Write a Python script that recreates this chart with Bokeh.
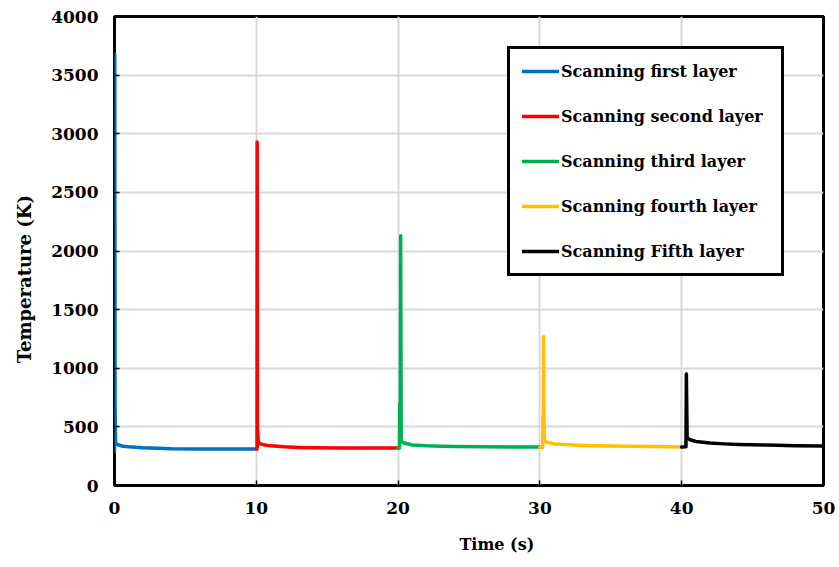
from bokeh.plotting import figure
from bokeh.models import Legend, LegendItem, FixedTicker
from bokeh.embed import file_html
from bokeh.resources import INLINE

# Temperature history while scanning five successive layers
t_layer1 = [0.0, 0.02, 0.04, 0.07, 0.1, 0.15, 0.3, 0.6, 1.0, 2.0, 3.0, 4.0, 6.0, 8.0, 10.0]
T_layer1 = [290, 3680, 700, 380, 360, 352, 345, 335, 330, 322, 318, 313, 312, 312, 312]

t_layer2 = [10.0, 10.05, 10.06, 10.08, 10.1, 10.14, 10.3, 10.6, 11.0, 12.0, 13.0, 14.0, 16.0, 18.0, 20.0]
T_layer2 = [312, 312, 2930, 330, 470, 370, 355, 345, 338, 330, 325, 322, 320, 320, 320]

t_layer3 = [20.0, 20.1, 20.12, 20.16, 20.18, 20.22, 20.3, 20.5, 20.8, 21.0, 22.0, 23.0, 24.0, 26.0, 28.0, 30.0]
T_layer3 = [320, 320, 700, 700, 2130, 380, 370, 360, 352, 345, 338, 335, 332, 330, 328, 328]

t_layer4 = [30.0, 30.2, 30.22, 30.24, 30.26, 30.3, 30.36, 30.5, 30.8, 31.0, 32.0, 33.0, 34.0, 36.0, 38.0, 40.0]
T_layer4 = [325, 325, 600, 380, 1270, 400, 380, 370, 360, 355, 348, 342, 338, 335, 332, 328]

t_layer5 = [40.0, 40.3, 40.33, 40.38, 40.45, 40.6, 41.0, 42.0, 43.0, 44.0, 46.0, 48.0, 50.0]
T_layer5 = [328, 330, 950, 420, 400, 390, 375, 362, 355, 350, 345, 340, 337]

layer_names = ["Scanning first layer", "Scanning second layer", "Scanning third layer",
               "Scanning fourth layer", "Scanning Fifth layer"]
layer_colors = ["#0070C0", "#FF0000", "#00B050", "#FFC000", "#000000"]

x_ticks = [0, 10, 20, 30, 40, 50]
y_ticks = [0, 500, 1000, 1500, 2000, 2500, 3000, 3500, 4000]

FONT = "DejaVu Serif"
NBSP = "\u00a0"

p = figure(width=839, height=567, x_range=(0, 50), y_range=(0, 4000),
           output_backend="svg", toolbar_location=None,
           min_border_left=114, min_border_right=16, min_border_top=16, min_border_bottom=82)
p.background_fill_color = "white"
p.border_fill_color = "white"
p.outline_line_color = "black"
p.outline_line_width = 3

series = [(t_layer1, T_layer1), (t_layer2, T_layer2), (t_layer3, T_layer3),
          (t_layer4, T_layer4), (t_layer5, T_layer5)]
renderers = []
for (tx, ty), col in zip(series, layer_colors):
    r = p.line(tx, ty, line_color=col, line_width=3.5, line_join="round", line_cap="round")
    renderers.append(r)

p.xaxis.ticker = FixedTicker(ticks=x_ticks)
p.yaxis.ticker = FixedTicker(ticks=y_ticks)
for ax in (p.xaxis[0], p.yaxis[0]):
    ax.axis_line_color = None
    ax.major_tick_in = 5
    ax.major_tick_out = 0
    ax.major_tick_line_width = 1.5
    ax.minor_tick_line_color = None
    ax.major_label_text_font = FONT
    ax.major_label_text_font_style = "bold"
    ax.major_label_text_font_size = "17px"
    ax.major_label_text_color = "black"
    ax.axis_label_text_font = FONT
    ax.axis_label_text_font_style = "bold"
    ax.axis_label_text_color = "black"

# axis titles sit a little off the frame centre, padded with non-breaking spaces
p.xaxis.axis_label = NBSP * 10 + "Time (s)"
p.yaxis.axis_label = "Temperature (K)" + NBSP * 9
p.xaxis.axis_label_text_font_size = "16px"
p.yaxis.axis_label_text_font_size = "18px"
p.xaxis.major_label_standoff = 16
p.yaxis.major_label_standoff = 16
p.xaxis.axis_label_standoff = 18
p.yaxis.axis_label_standoff = 13

p.xgrid.grid_line_color = "#d9d9d9"
p.xgrid.grid_line_width = 2
p.ygrid.grid_line_color = "#d9d9d9"
p.ygrid.grid_line_width = 2

legend = Legend(items=[LegendItem(label=n, renderers=[r]) for n, r in zip(layer_names, renderers)],
                location=(393, 209), margin=0, padding=12, spacing=25,
                label_height=20, glyph_height=20, glyph_width=37, label_standoff=2,
                label_width=208,
                label_text_font=FONT, label_text_font_style="bold",
                label_text_font_size="16px", label_text_color="black",
                border_line_color="black", border_line_width=3, border_line_alpha=1,
                background_fill_color="white", background_fill_alpha=1)
p.add_layout(legend, "center")

open("out.html", "w").write(file_html(p, INLINE))
